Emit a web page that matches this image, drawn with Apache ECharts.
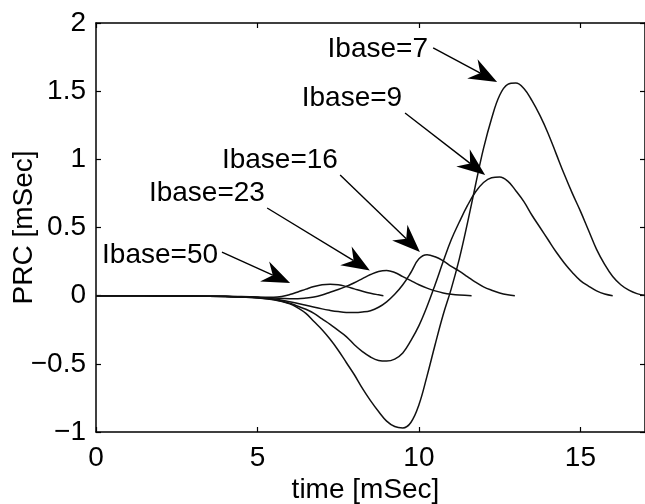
<!DOCTYPE html>
<html><head><meta charset="utf-8">
<script src="https://cdn.jsdelivr.net/npm/echarts@6/dist/echarts.min.js"></script>
<style>html,body{margin:0;padding:0;background:#fff}#c{width:645px;height:504px}</style>
</head><body><div id="c"></div>
<script>
// PRC curves (time [mSec], PRC [mSec])
const t7  = [0,1,2,3,4,4.5,5,5.5,6,6.25,6.5,6.75,7,7.25,7.5,7.75,8,8.25,8.5,8.75,9,9.25,9.5,9.75,10,10.25,10.5,10.75,11,11.25,11.5,11.75,12,12.25,12.5,12.75,13,13.25,13.5,13.75,14,14.25,14.5,14.75,15,15.25,15.5,15.75,16,16.25,16.5,16.75,17,17.25];
const v7  = [0,-0.001,-0.002,-0.004,-0.007,-0.011,-0.017,-0.03,-0.06,-0.09,-0.13,-0.19,-0.25,-0.32,-0.40,-0.49,-0.58,-0.68,-0.77,-0.85,-0.92,-0.96,-0.97,-0.93,-0.80,-0.59,-0.36,-0.14,0.05,0.27,0.53,0.81,1.08,1.30,1.47,1.55,1.56,1.52,1.43,1.32,1.19,1.04,0.89,0.75,0.62,0.48,0.34,0.23,0.14,0.08,0.04,0.015,0.003,0];
const t9  = [0,1,2,3,4,4.5,5,5.5,6,6.25,6.5,6.75,7,7.25,7.5,7.75,8,8.25,8.5,8.75,9,9.25,9.5,9.75,10,10.25,10.5,10.75,11,11.25,11.5,11.75,12,12.25,12.5,12.75,13,13.25,13.5,13.75,14,14.25,14.5,14.75,15,15.25,15.5,15.75,16];
const v9  = [0,-0.001,-0.002,-0.004,-0.007,-0.011,-0.016,-0.028,-0.055,-0.078,-0.10,-0.13,-0.17,-0.21,-0.255,-0.30,-0.36,-0.41,-0.45,-0.475,-0.48,-0.465,-0.42,-0.33,-0.22,-0.08,0.08,0.25,0.41,0.54,0.66,0.76,0.83,0.865,0.87,0.84,0.77,0.69,0.59,0.50,0.41,0.32,0.24,0.17,0.11,0.07,0.035,0.012,0];
const t16 = [0,1,2,3,4,4.5,5,5.5,6,6.5,7,7.25,7.5,7.75,8,8.25,8.5,8.75,9,9.25,9.5,9.75,10,10.25,10.5,10.75,11,11.25,11.5,11.75,12,12.25,12.5,12.75,12.97];
const v16 = [0,-0.001,-0.002,-0.003,-0.006,-0.009,-0.014,-0.024,-0.045,-0.07,-0.097,-0.108,-0.117,-0.123,-0.124,-0.12,-0.11,-0.085,-0.045,0.01,0.08,0.17,0.27,0.30,0.285,0.255,0.215,0.18,0.14,0.10,0.065,0.04,0.02,0.007,0];
const t23 = [0,1,2,3,4,4.5,5,5.5,6,6.25,6.5,6.75,7,7.25,7.5,7.75,8,8.25,8.5,8.75,9,9.25,9.5,9.75,10,10.25,10.5,10.75,11,11.25,11.63];
const v23 = [0,-0.001,-0.002,-0.003,-0.005,-0.008,-0.012,-0.018,-0.022,-0.022,-0.018,-0.01,0.005,0.025,0.045,0.068,0.095,0.125,0.155,0.178,0.185,0.17,0.14,0.11,0.08,0.055,0.035,0.02,0.01,0.004,0];
const t50 = [0,1,2,3,4,4.5,5,5.25,5.5,5.75,6,6.25,6.5,6.75,7,7.25,7.5,7.75,8,8.25,8.5,8.75,8.9];
const v50 = [0,-0.001,-0.002,-0.003,-0.005,-0.007,-0.01,-0.012,-0.012,-0.006,0.008,0.027,0.048,0.067,0.08,0.084,0.08,0.067,0.05,0.033,0.018,0.006,0];

const xTicks = [0,5,10,15];
const yTicks = [-1,-0.5,0,0.5,1,1.5,2];

// annotations: label text, label right-end anchor, arrow start, arrow tip (data coords)
const annLabels = ['Ibase=7','Ibase=9','Ibase=16','Ibase=23','Ibase=50'];
const annText   = [[10.28,1.81],[9.48,1.45],[7.49,0.995],[5.23,0.753],[3.78,0.298]];
const annStart  = [[10.44,1.817],[9.57,1.34],[7.56,0.885],[5.30,0.643],[3.90,0.32]];
const annTip    = [[12.42,1.567],[12.05,0.885],[10.03,0.32],[8.48,0.185],[6.01,0.093]];

const FONT = 'Liberation Sans, Arial, Helvetica, sans-serif';
const zip = (a,b) => a.map((x,i)=>[x,b[i]]);
const curves = [[t7,v7],[t9,v9],[t16,v16],[t23,v23],[t50,v50]];

const chart = echarts.init(document.getElementById('c'), null, {renderer:'canvas'});
const axLine = {show:true, onZero:false, lineStyle:{color:'#000', width:1.5}};
const axTick = {show:true, inside:true, length:5, lineStyle:{color:'#000', width:1.2}};
const fmt = v => String(v).replace('-', '\u2212');

chart.setOption({
  animation:false,
  backgroundColor:'#fff',
  grid:{left:96, right:0, top:23, bottom:72, containLabel:false, outerBoundsMode:'none'},
  xAxis:[
    {type:'value', min:0, max:17, interval:5, position:'bottom',
     axisLine:axLine, axisTick:axTick, splitLine:{show:false},
     axisLabel:{color:'#000', fontSize:28, fontFamily:FONT, margin:12, showMaxLabel:false,
       formatter:v => xTicks.includes(v) ? fmt(v) : ''},
     name:'time [mSec]', nameLocation:'middle', nameGap:44, nameMoveOverlap:false,
     nameTextStyle:{color:'#000', fontSize:28, fontFamily:FONT, padding:[0,10,0,0]}},
    {type:'value', min:0, max:17, interval:5, position:'top',
     axisLine:axLine, axisTick:axTick, splitLine:{show:false}, axisLabel:{show:false}}
  ],
  yAxis:[
    {type:'value', min:-1, max:2, interval:0.5, position:'left',
     axisLine:axLine, axisTick:axTick, splitLine:{show:false},
     axisLabel:{color:'#000', fontSize:28, fontFamily:FONT, margin:10,
       formatter:v => yTicks.includes(v) ? fmt(v) : ''},
     name:'PRC [mSec]', nameLocation:'middle', nameGap:58, nameMoveOverlap:false,
     nameTextStyle:{color:'#000', fontSize:28, fontFamily:FONT}},
    {type:'value', min:-1, max:2, interval:0.5, position:'right',
     axisLine:axLine, axisTick:axTick, splitLine:{show:false}, axisLabel:{show:false}}
  ],
  series: curves.map((c,i)=>({
    type:'line', name:annLabels[i], data:zip(c[0],c[1]), showSymbol:false, smooth:0.4,
    lineStyle:{color:'#111', width:1.5}, clip:true, z:3
  }))
});

function arrowEls(s, e) {
  const L=28, W=11, N=9;
  const dx=e[0]-s[0], dy=e[1]-s[1], len=Math.hypot(dx,dy);
  const ux=dx/len, uy=dy/len, nx=-uy, ny=ux;
  const bx=e[0]-L*ux, by=e[1]-L*uy;
  const mx=e[0]-(L-N)*ux, my=e[1]-(L-N)*uy;
  return [
    {type:'line', shape:{x1:s[0],y1:s[1],x2:mx,y2:my}, style:{stroke:'#000', lineWidth:1.4}, z:10},
    {type:'polygon', shape:{points:[[e[0],e[1]],[bx+W*nx,by+W*ny],[mx,my],[bx-W*nx,by-W*ny]]}, style:{fill:'#000'}, z:10}
  ];
}
const g = [];
annLabels.forEach((lab,i)=>{
  const p = chart.convertToPixel({gridIndex:0}, annText[i]);
  const s = chart.convertToPixel({gridIndex:0}, annStart[i]);
  const e = chart.convertToPixel({gridIndex:0}, annTip[i]);
  g.push({type:'text', x:p[0], y:p[1], style:{text:lab, fill:'#000', font:'28px '+FONT, textAlign:'right', textVerticalAlign:'middle'}, z:10});
  g.push(...arrowEls(s,e));
});
chart.setOption({graphic:g});
</script></body></html>
